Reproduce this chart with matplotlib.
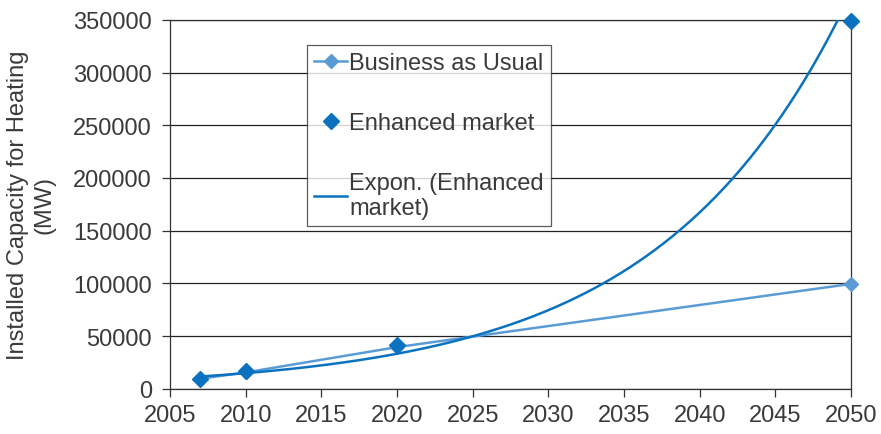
import numpy as np
import matplotlib.pyplot as plt

plt.rcParams['font.family'] = ['Liberation Sans', 'DejaVu Sans']

# Installed heating capacity scenarios (MW)
years_bau = [2007, 2010, 2020, 2050]
bau = [9500, 15500, 39500, 99500]

years_enh = [2007, 2010, 2020, 2050]
enhanced = [9000, 16500, 41500, 348500]

text_col = '#3a3a3a'
bau_col = '#5b9bd5'
enh_col = '#0a72bf'
fs = 17

fig = plt.figure(figsize=(8.81, 4.35), dpi=100)
ax = fig.add_axes([0.193, 0.104, 0.773, 0.848])

# exponential trend fitted to the enhanced market points
k, c = np.polyfit(years_enh, np.log(enhanced), 1)
xt = np.linspace(2007, 2050, 300)
yt = np.exp(c + k * xt)

ax.plot(years_bau, bau, color=bau_col, lw=1.8, marker='D', ms=7,
        label='Business as Usual', zorder=3, clip_on=False)
ax.plot(years_enh, enhanced, ls='none', color=enh_col, marker='D', ms=8,
        label='Enhanced market', zorder=4, clip_on=False)
ax.plot(xt, yt, color=enh_col, lw=1.8, label='Expon. (Enhanced\nmarket)', zorder=3)

ax.set_xlim(2005, 2050)
ax.set_ylim(0, 350000)
ax.set_xticks(range(2005, 2051, 5))
ax.set_yticks(range(0, 350001, 50000))
ax.yaxis.grid(True, color='#222222', lw=0.9)
ax.set_axisbelow(True)
for s in ax.spines.values():
    s.set_color('#333333')
    s.set_linewidth(0.9)
ax.tick_params(colors='#333333', labelcolor=text_col, labelsize=fs,
               length=6, width=0.9)
ax.tick_params(axis='x', pad=5)
ax.tick_params(axis='y', pad=7)
ax.set_ylabel('Installed Capacity for Heating\n(MW)', fontsize=fs,
              color=text_col, linespacing=1.25, labelpad=13)

leg = ax.legend(loc='upper left', bbox_to_anchor=(0.201, 0.932), fontsize=fs,
                frameon=True, fancybox=False, labelspacing=1.6,
                handlelength=1.4, handletextpad=0.1, borderpad=0.3,
                borderaxespad=0)
leg.get_frame().set_edgecolor('#333333')
leg.get_frame().set_linewidth(0.9)
for t in leg.get_texts():
    t.set_color(text_col)
    t.set_linespacing(1.2)

fig.savefig('out.png', dpi=100)
